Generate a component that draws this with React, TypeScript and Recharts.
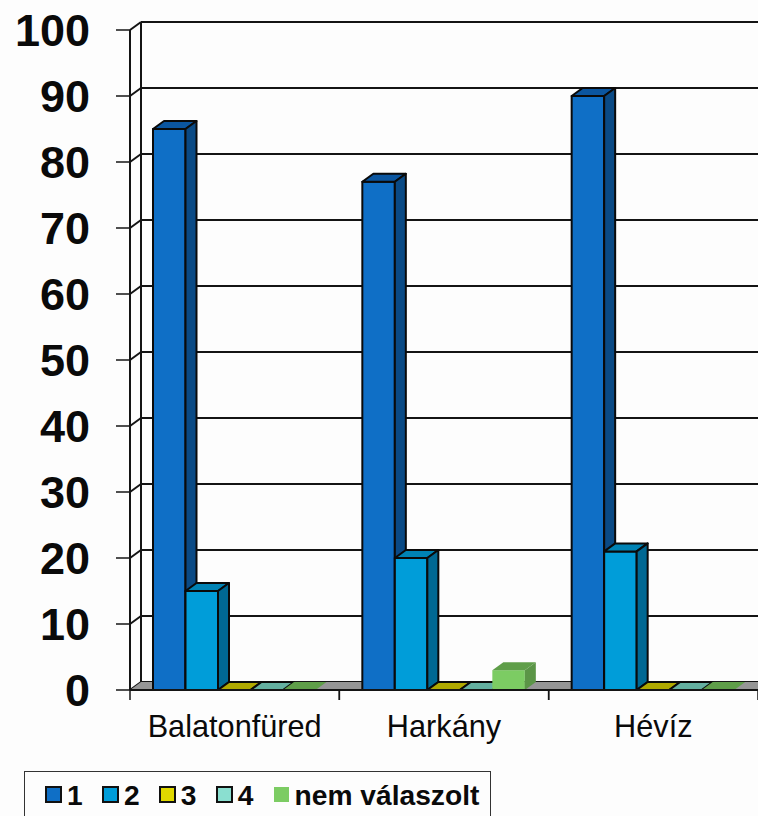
import { BarChart, Bar, XAxis, YAxis, CartesianGrid, ReferenceArea, Legend } from "recharts";

const cities = ["Balatonfüred", "Harkány", "Hévíz"];
const answers1 = [85, 77, 90];
const answers2 = [15, 20, 21];
const answers3 = [0, 0, 0];
const answers4 = [0, 0, 0];
const noAnswer = [0, 3, 0];
const yTicks = [0, 10, 20, 30, 40, 50, 60, 70, 80, 90, 100];

const chartData = cities.map((city, i) => ({
  city,
  a1: answers1[i],
  a2: answers2[i],
  a3: answers3[i],
  a4: answers4[i],
  none: noAnswer[i],
}));

const SERIES = [
  { key: "a1", name: "1", front: "#0F6FC6", side: "#0A4A85", top: "#0B56A0", line: "#0a0a0a" },
  { key: "a2", name: "2", front: "#009DD9", side: "#006893", top: "#0083B5", line: "#0a0a0a" },
  { key: "a3", name: "3", front: "#E0D900", side: "#958F00", top: "#B0A900", line: "#0a0a0a" },
  { key: "a4", name: "4", front: "#8ADFD0", side: "#5C9488", top: "#64B0A0", line: "#0a0a0a" },
  { key: "none", name: "nem válaszolt", front: "#7CCC63", side: "#5B9547", top: "#5F9E49", line: "none" },
];

const DX = 11;
const DY = 8;
const INK = "#141414";
const FONT = '"Liberation Sans", Arial, sans-serif';

// 3D looking column: front face, top and right side
const Box = ({ x, y, width, height, front, side, top, line }: any) => {
  const sw = line === "none" ? 0 : 2;
  const r = x + width;
  const b = y + height;
  return (
    <g stroke={line} strokeWidth={sw} strokeLinejoin="round">
      {height > 0.5 && <rect x={x} y={y} width={width} height={height} fill={front} />}
      <polygon points={`${x},${y} ${x + DX},${y - DY} ${r + DX},${y - DY} ${r},${y}`} fill={top} />
      {height > 0.5 && (
        <polygon points={`${r},${y} ${r + DX},${y - DY} ${r + DX},${b - DY} ${r},${b}`} fill={side} />
      )}
    </g>
  );
};

// floor and back wall edge of the 3D plot
const Backdrop = ({ x, y, width, height }: any) => {
  const b = y + height;
  return (
    <g>
      <polygon
        points={`${x},${b} ${x + DX},${b - DY} ${x + width},${b - DY} ${x + width},${b}`}
        fill="#969696"
      />
      <line x1={x + DX} y1={y - DY} x2={x + DX} y2={b - DY} stroke={INK} strokeWidth={2} />
    </g>
  );
};

const GridLine = ({ x1, y1, x2, y2 }: any) => (
  <g stroke={INK} strokeWidth={2}>
    <line x1={x1 + DX} y1={y1 - DY} x2={x2} y2={y2 - DY} />
    <line x1={x1} y1={y1} x2={x1 + DX} y2={y1 - DY} />
  </g>
);

// ticks sit on the category borders, label stays in the middle
const CityTick = ({ x, y, payload }: any) => {
  const half = 209.33 / 2;
  return (
    <g>
      <line x1={x - half} y1={y - 8} x2={x - half} y2={y + 2} stroke={INK} strokeWidth={1.5} />
      <line x1={x + half} y1={y - 8} x2={x + half} y2={y + 2} stroke={INK} strokeWidth={1.5} />
      <text x={x} y={y + 39} textAnchor="middle" fontFamily={FONT} fontSize={30.7} fill="#0a0a0a">
        {payload.value}
      </text>
    </g>
  );
};

const LegendBox = () => (
  <div
    style={{
      boxSizing: "border-box",
      width: 467,
      height: 46,
      border: "1px solid #333",
      borderBottom: "none",
      display: "flex",
      alignItems: "center",
      paddingLeft: 20,
      gap: 19.2,
      fontFamily: FONT,
      fontSize: 28.2,
      fontWeight: 700,
      color: "#0a0a0a",
      background: "#fdfdfd",
    }}
  >
    {SERIES.map((s) => (
      <span key={s.key} style={{ display: "flex", alignItems: "center", gap: 5 }}>
        <span
          style={{
            boxSizing: "border-box",
            width: s.line === "none" ? 15 : 17,
            height: s.line === "none" ? 15 : 17,
            marginLeft: s.line === "none" ? 1 : 0,
            marginRight: s.line === "none" ? 1 : 0,
            background: s.front,
            border: s.line === "none" ? "none" : "2px solid #111",
          }}
        />
        <span style={{ lineHeight: "32px" }}>{s.name}</span>
      </span>
    ))}
  </div>
);

export default function App() {
  return (
    <div style={{ position: "fixed", left: 0, top: 0, width: 758, height: 816, overflow: "hidden", background: "#fdfdfd" }}>
      <BarChart
        width={758}
        height={816}
        data={chartData}
        margin={{ top: 30, right: 0, bottom: 20, left: 0 }}
        barSize={32.5}
        barGap={0}
      >
        <ReferenceArea y1={0} y2={100} shape={<Backdrop />} fillOpacity={1} />
        <CartesianGrid vertical={false} horizontal={(props: any) => <GridLine key={props.index} {...props} />} />
        <XAxis
          dataKey="city"
          height={60}
          tickLine={false}
          axisLine={{ stroke: INK, strokeWidth: 2 }}
          tick={<CityTick />}
          interval={0}
        />
        <YAxis
          width={130}
          domain={[0, 100]}
          ticks={yTicks}
          interval={0}
          tickSize={14}
          tickMargin={26}
          axisLine={{ stroke: INK, strokeWidth: 2 }}
          tickLine={{ stroke: INK, strokeWidth: 1.5 }}
          tick={{ fontFamily: FONT, fontSize: 45, fontWeight: 700, fill: "#0a0a0a" }}
        />
        {SERIES.map((s) => (
          <Bar
            key={s.key}
            dataKey={s.key}
            name={s.name}
            fill={s.front}
            isAnimationActive={false}
            shape={(props: any) => <Box {...props} front={s.front} side={s.side} top={s.top} line={s.line} />}
          />
        ))}
        <Legend
          verticalAlign="bottom"
          height={46}
          content={<LegendBox />}
          wrapperStyle={{ left: 24, top: 771, bottom: "auto", width: 467 }}
        />
      </BarChart>
    </div>
  );
}
